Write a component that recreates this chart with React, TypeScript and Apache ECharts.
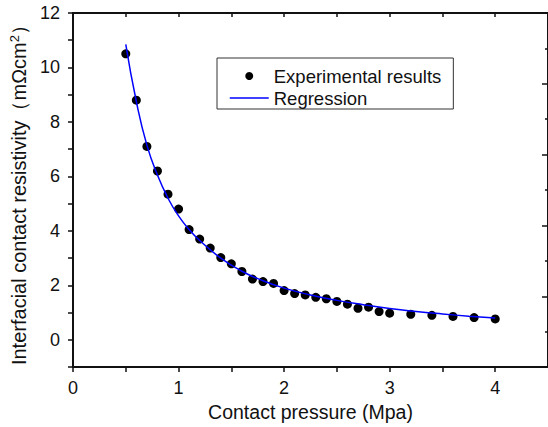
import React, { useEffect, useRef } from 'react';
import * as echarts from 'echarts';

const pressure = [
  0.5, 0.6, 0.7, 0.8, 0.9, 1.0, 1.1, 1.2, 1.3, 1.4, 1.5, 1.6, 1.7, 1.8, 1.9, 2.0,
  2.1, 2.2, 2.3, 2.4, 2.5, 2.6, 2.7, 2.8, 2.9, 3.0, 3.2, 3.4, 3.6, 3.8, 4.0,
];
const resistivity = [
  10.5, 8.8, 7.1, 6.2, 5.35, 4.8, 4.05, 3.7, 3.37, 3.02, 2.79, 2.51, 2.23, 2.14, 2.07, 1.81,
  1.7, 1.65, 1.56, 1.51, 1.41, 1.31, 1.16, 1.2, 1.04, 0.98, 0.94, 0.9, 0.86, 0.82, 0.77,
];
const regPressure = [
  0.5, 0.6, 0.7, 0.8, 0.9, 1.0, 1.1, 1.2, 1.4, 1.6, 1.8, 2.0, 2.25, 2.5, 2.75, 3.0, 3.25, 3.5, 3.75, 4.0,
];
const regResistivity = [
  10.85, 8.75, 7.15, 6.05, 5.2, 4.55, 4.05, 3.65, 3.0, 2.52, 2.17, 1.9, 1.65, 1.45, 1.29, 1.15, 1.04, 0.95, 0.87, 0.8,
];
const xTickLabels = ['0', '1', '2', '3', '4'];
const yTickLabels = ['0', '2', '4', '6', '8', '10', '12'];

export default function App() {
  const ref = useRef<HTMLDivElement>(null);
  useEffect(() => {
    const chart = echarts.init(ref.current!, null, { renderer: 'svg' });
    const font = 'Liberation Sans, Arial, Helvetica, sans-serif';
    const axisColor = '#111';
    chart.setOption({
      animation: false,
      backgroundColor: '#fff',
      textStyle: { fontFamily: font },
      grid: {
        left: 73,
        top: 13,
        right: -2,
        bottom: 59,
        containLabel: false,
        show: true,
        borderColor: axisColor,
        borderWidth: 2,
        backgroundColor: 'transparent',
      },
      legend: {
        left: 217,
        top: 58,
        orient: 'vertical',
        padding: [8, 12, 1, 12],
        itemGap: 2,
        itemWidth: 39,
        itemHeight: 8,
        borderColor: '#333',
        borderWidth: 1,
        textStyle: { fontSize: 18.5, lineHeight: 20, color: '#111', fontFamily: font },
        data: [
          { name: 'Experimental results', icon: 'circle', itemStyle: { color: '#000', opacity: 1 } },
          {
            name: 'Regression',
            itemStyle: { opacity: 0 },
            lineStyle: { color: '#0000ff', width: 1.5, opacity: 1 },
          },
        ],
      },
      xAxis: [
        {
          type: 'value',
          min: 0,
          max: 4.5,
          interval: 0.5,
          name: 'Contact pressure (Mpa)',
          nameLocation: 'middle',
          nameGap: 33,
          nameTextStyle: { fontSize: 19.5, color: '#111', fontFamily: font },
          axisLine: { show: true, onZero: false, lineStyle: { color: axisColor, width: 2 } },
          axisTick: { show: true, length: 5, lineStyle: { color: axisColor, width: 1.5 } },
          axisLabel: {
            fontSize: 18,
            color: '#111',
            margin: 12,
            showMaxLabel: false,
            formatter: (v: number) => (xTickLabels.includes(String(v)) ? String(v) : ''),
          },
          splitLine: { show: false },
        },
        {
          type: 'value',
          position: 'top',
          min: 0,
          max: 4.5,
          interval: 0.5,
          axisLine: { show: true, onZero: false, lineStyle: { color: axisColor, width: 2 } },
          axisTick: { show: true, inside: true, length: 4, lineStyle: { color: axisColor, width: 1.5 } },
          axisLabel: { show: false },
          splitLine: { show: false },
        },
      ],
      yAxis: [
        {
          type: 'value',
          min: -1,
          max: 12,
          interval: 1,
          name: 'Interfacial contact resistivity（mΩcm{sup|2}）',
          nameLocation: 'middle',
          nameGap: 30,
          nameTextStyle: {
            fontSize: 20,
            color: '#111',
            fontFamily: font,
            rich: { sup: { fontSize: 13, color: '#111', fontFamily: font, padding: [0, 0, 9, 0] } },
          },
          axisLine: { show: true, onZero: false, lineStyle: { color: axisColor, width: 2 } },
          axisTick: { show: true, length: 5, lineStyle: { color: axisColor, width: 1.5 } },
          axisLabel: {
            fontSize: 18,
            color: '#111',
            margin: 13,
            formatter: (v: number) => (yTickLabels.includes(String(v)) ? String(v) : ''),
          },
          splitLine: { show: false },
        },
        {
          type: 'value',
          position: 'right',
          min: 0,
          max: 10,
          interval: 2,
          axisLine: { show: false, onZero: false },
          axisTick: { show: true, inside: true, length: 6, lineStyle: { color: axisColor, width: 1.5 } },
          minorTick: { show: true, splitNumber: 2, length: 3, lineStyle: { color: axisColor, width: 1.5 } },
          axisLabel: { show: false },
          splitLine: { show: false },
        },
      ],
      series: [
        {
          name: 'Experimental results',
          type: 'scatter',
          xAxisIndex: 0,
          yAxisIndex: 0,
          symbol: 'circle',
          symbolSize: 9,
          itemStyle: { color: '#000', opacity: 1 },
          data: pressure.map((p, i) => [p, resistivity[i]]),
          z: 2,
        },
        {
          name: 'Regression',
          type: 'line',
          xAxisIndex: 0,
          yAxisIndex: 0,
          smooth: true,
          symbol: 'none',
          showSymbol: false,
          lineStyle: { color: '#0000ff', width: 1.5 },
          itemStyle: { color: '#0000ff' },
          data: regPressure.map((p, i) => [p, regResistivity[i]]),
          z: 3,
        },
      ],
    });
    return () => chart.dispose();
  }, []);
  return (
    <div
      ref={ref}
      style={{ position: 'fixed', left: 0, top: 0, width: 548, height: 427, background: '#fff' }}
    />
  );
}
